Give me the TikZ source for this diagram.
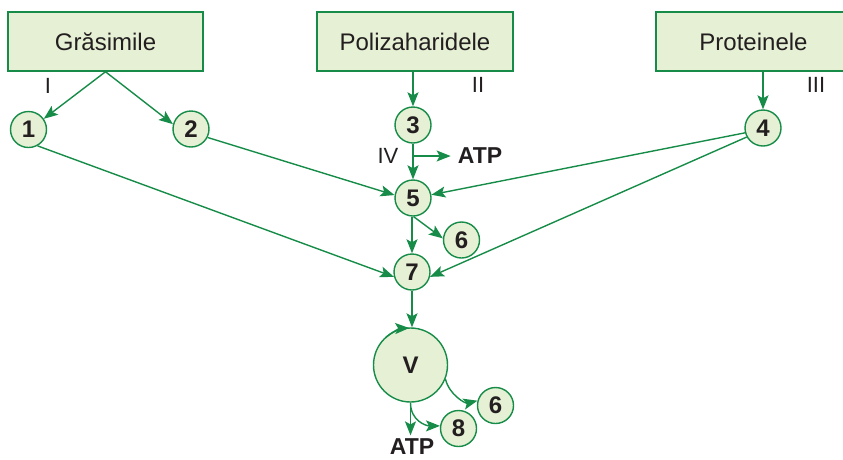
\documentclass[tikz,border=0pt]{standalone}
\usepackage{fontspec}
\setmainfont{Liberation Sans}
\usetikzlibrary{arrows.meta}
\definecolor{gr}{RGB}{22,140,72}
\definecolor{lg}{RGB}{230,240,212}
\definecolor{tx}{RGB}{35,31,32}
\begin{document}
\begin{tikzpicture}[x=1pt,y=1pt,
 box/.style={draw=gr, fill=lg, line width=1.5pt, minimum width=195pt, minimum height=59pt, inner sep=0pt, font=\fontsize{24}{28}\selectfont, text=tx},
 num/.style={circle, draw=gr, fill=lg, line width=1.4pt, minimum size=36pt, inner sep=0pt, font=\fontsize{24}{28}\selectfont\bfseries, text=tx},
 lab/.style={font=\fontsize{22}{26}\selectfont, text=tx, inner sep=0pt},
 atp/.style={font=\fontsize{23}{27}\selectfont\bfseries, text=tx, inner sep=4pt},
 arr/.style={draw=gr, line width=1.4pt, -{Stealth[length=14pt,width=11pt,inset=3pt]}},
 ln/.style={draw=gr, line width=1.4pt}]
\useasboundingbox (0,-459) rectangle (843,0);
\clip (0,-459) rectangle (843,0);
% boxes
\node[box] (g) at (105.5,-41.5) {Grăsimile};
\node[box, minimum width=196pt] (p) at (415,-41.5) {Polizaharidele};
\node[box] (pr) at (753.5,-41.5) {Proteinele};
% labels
\node[lab] (l1) at (48,-86) {I};
\node[lab] (l2) at (478,-85) {II};
\node[lab] (l3) at (816,-85) {III};
\node[lab] (l4) at (388,-156) {IV};
% circles
\node[num] (n1) at (28.5,-129.5) {1};
\node[num] (n2) at (191,-129) {2};
\node[num] (n3) at (413,-125) {3};
\node[num] (n4) at (763,-128) {4};
\node[num] (n5) at (413,-198) {5};
\node[num] (n6) at (461.5,-240) {6};
\node[num] (n7) at (412,-272) {7};
\node[num, minimum size=74pt] (V) at (410.5,-365) {V};
\node[num] (n6b) at (495.5,-405.5) {6};
\node[num] (n8) at (458.5,-428.5) {8};
\node[atp, inner xsep=7pt] (atp1) at (480,-156) {ATP};
\node[atp, inner sep=1pt] (atp2) at (412,-446.5) {ATP};
% connectors
\draw[arr] (g.south) -- (n1.35);
\draw[arr] (g.south) -- (n2.165);
\draw[arr] (n3.north |- p.south) -- (n3.north);
\draw[arr] (n4.north |- pr.south) -- (n4.north);
\draw[arr] (n3.south) -- (n5.north);
\draw[arr] (n3.south |- atp1.west) -- (atp1.west);
\draw[arr] (n2.-27) -- (n5.171);
\draw[arr] (n4.195) -- (n5.10);
\draw[arr] (n4.209) -- (n7.-15);
\draw[arr] (n1.-61) -- (n7.195);
\draw[arr] (n5.-88) -- (n6.175);
\draw[arr] (n5.south -| n7.north) -- (n7.north);
\draw[arr] (n7.south) -- (n7.south |- V.north);
\draw[arr] ([shift={(132:37)}]V.center) arc[start angle=132, end angle=92, radius=37];
\draw[arr] (V.-22) .. controls +(4,-16) and +(-12,-3) .. (n6b.165);
\draw[arr] (V.south) .. controls +(0,-18) and +(-14,0) .. (n8.172);
\draw[arr] (V.south) -- ([yshift=2pt]V.south |- atp2.north);
\end{tikzpicture}
\end{document}
